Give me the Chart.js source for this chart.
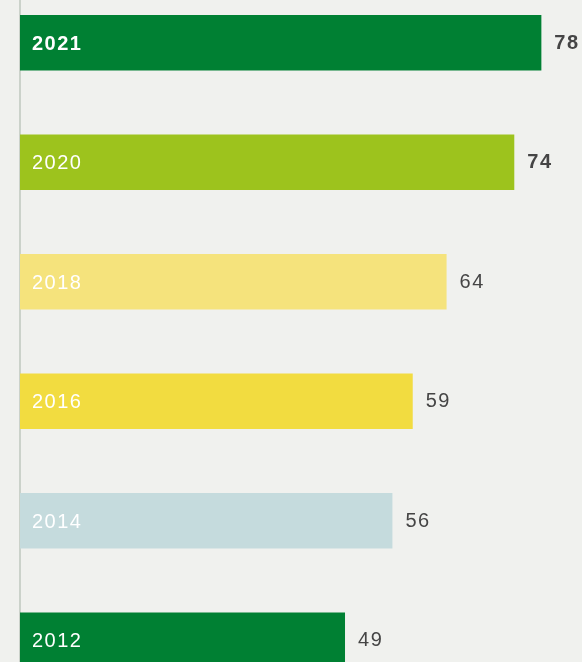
<!DOCTYPE html>
<html>
<head>
<meta charset="utf-8">
<script src="https://cdn.jsdelivr.net/npm/chart.js@4/dist/chart.umd.min.js"></script>
<style>
  html, body { margin: 0; padding: 0; background: #f0f1ee; overflow: hidden; width: 582px; height: 662px; }
  #wrap { position: absolute; left: 0; top: -17px; width: 582px; height: 717px; }
</style>
</head>
<body>
<div id="wrap"><canvas id="c"></canvas></div>
<script>
const years = ['2021', '2020', '2018', '2016', '2014', '2012'];
const values = [78, 74, 64, 59, 56, 49];
const barColors = ['#008033', '#9dc31d', '#f5e37c', '#f2dc40', '#c5dbdd', '#008033'];
const boldLabels = ['2021'];
const boldValues = ['2021', '2020'];

const labelPlugin = {
  id: 'barLabels',
  afterDatasetsDraw(chart) {
    const ctx = chart.ctx;
    const meta = chart.getDatasetMeta(0);
    const area = chart.chartArea;
    ctx.save();
    ctx.textBaseline = 'middle';
    ctx.textAlign = 'left';
    if ('letterSpacing' in ctx) ctx.letterSpacing = '1.5px';
    meta.data.forEach((bar, i) => {
      const yr = years[i];
      ctx.fillStyle = '#ffffff';
      ctx.font = (boldLabels.includes(yr) ? 'bold ' : '') + '20px "Liberation Sans", Arial, sans-serif';
      ctx.fillText(yr, area.left + 12, bar.y + 1.5);
      ctx.fillStyle = '#454545';
      ctx.font = (boldValues.includes(yr) ? 'bold ' : '') + '20px "Liberation Sans", Arial, sans-serif';
      ctx.fillText(String(values[i]), bar.x + 13, bar.y + 0.5);
    });
    ctx.restore();
  }
};

new Chart(document.getElementById('c'), {
  type: 'bar',
  data: {
    labels: years,
    datasets: [{
      data: values,
      backgroundColor: barColors,
      borderWidth: 0,
      barPercentage: 0.465,
      categoryPercentage: 1
    }]
  },
  options: {
    indexAxis: 'y',
    responsive: true,
    maintainAspectRatio: false,
    animation: false,
    layout: { padding: { left: 20, right: 0, top: 0, bottom: 0 } },
    plugins: { legend: { display: false }, tooltip: { enabled: false } },
    scales: {
      x: { display: false, min: 1, max: 84 },
      y: {
        display: true,
        ticks: { display: false },
        grid: { display: false },
        border: { display: true, color: '#cbd2ca', width: 2 },
        afterFit(scale) { scale.width = 0; }
      }
    }
  },
  plugins: [labelPlugin]
});
</script>
</body>
</html>
